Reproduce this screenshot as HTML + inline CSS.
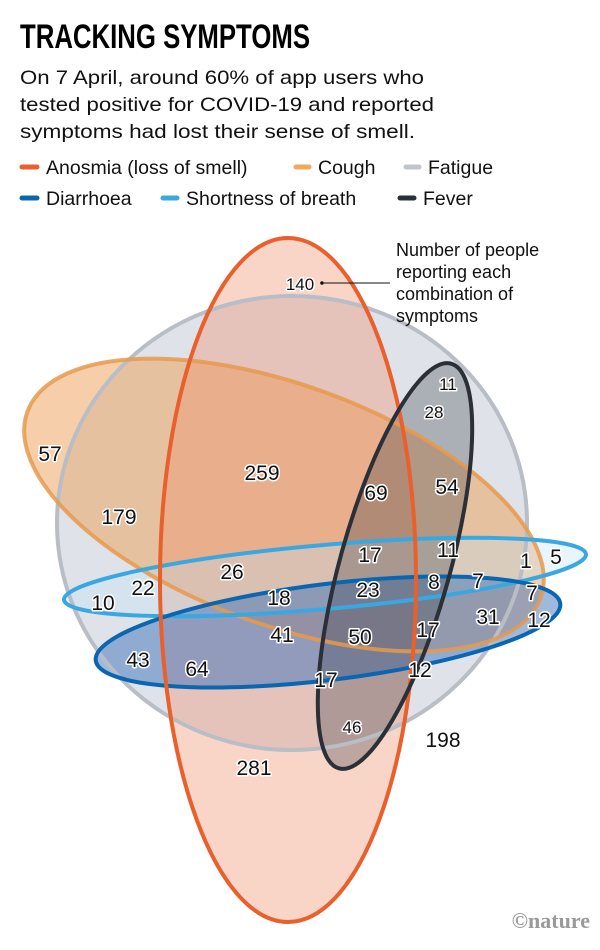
<!DOCTYPE html>
<html><head><meta charset="utf-8"><style>
body{margin:0;background:#fff;width:600px;height:950px;overflow:hidden;font-family:"Liberation Sans",sans-serif;}
svg{position:absolute;left:0;top:0}
</style></head><body>
<svg width="600" height="950" viewBox="0 0 600 950" xmlns="http://www.w3.org/2000/svg">
<text x="20" y="48" font-family="Liberation Sans Narrow, Liberation Sans, sans-serif" font-weight="bold" font-size="34" fill="#000" textLength="290" lengthAdjust="spacingAndGlyphs">TRACKING SYMPTOMS</text>
<g font-size="19.5" fill="#111">
<text x="20" y="84" textLength="404" lengthAdjust="spacingAndGlyphs">On 7 April, around 60% of app users who</text>
<text x="20" y="111" textLength="414" lengthAdjust="spacingAndGlyphs">tested positive for COVID-19 and reported</text>
<text x="20" y="138" textLength="395" lengthAdjust="spacingAndGlyphs">symptoms had lost their sense of smell.</text>
<text x="46" y="174">Anosmia (loss of smell)</text>
<text x="318" y="174">Cough</text>
<text x="428" y="174">Fatigue</text>
<text x="46" y="205">Diarrhoea</text>
<text x="186" y="205">Shortness of breath</text>
<text x="423" y="205">Fever</text>
</g>
<g stroke-width="5" stroke-linecap="round">
<line x1="22" y1="167" x2="37" y2="167" stroke="#e8602c"/>
<line x1="296" y1="167" x2="309" y2="167" stroke="#f0a85a"/>
<line x1="406" y1="167" x2="419" y2="167" stroke="#c0c4cb"/>
<line x1="22" y1="198" x2="37" y2="198" stroke="#0a66b0"/>
<line x1="163" y1="198" x2="177" y2="198" stroke="#3aa8e0"/>
<line x1="400" y1="198" x2="414" y2="198" stroke="#2a2f38"/>
</g>
<ellipse cx="292" cy="523" rx="235" ry="227" fill="#d2d7e0" fill-opacity="0.7"/>
<ellipse cx="284" cy="505" rx="273" ry="120" transform="rotate(20 284 505)" fill="#ee9f55" fill-opacity="0.5"/>
<ellipse cx="288" cy="580" rx="128" ry="342" fill="#f0916e" fill-opacity="0.38"/>
<ellipse cx="325" cy="577" rx="262" ry="32" transform="rotate(-5 325 577)" fill="#bfe2f5" fill-opacity="0.35"/>
<ellipse cx="328" cy="632" rx="234" ry="48" transform="rotate(-7 328 632)" fill="#3f74bb" fill-opacity="0.5"/>
<ellipse cx="395" cy="566" rx="210" ry="55" transform="rotate(-74.5 395 566)" fill="#353a47" fill-opacity="0.3"/>
<g fill="none" stroke-width="4">
<ellipse cx="292" cy="523" rx="235" ry="227" stroke="#b9bdc5"/>
<ellipse cx="284" cy="505" rx="273" ry="120" transform="rotate(20 284 505)" stroke="#e59a4c" stroke-opacity="0.85"/>
<ellipse cx="325" cy="577" rx="262" ry="32" transform="rotate(-5 325 577)" stroke="#3aa8e0"/>
<ellipse cx="328" cy="632" rx="234" ry="48" transform="rotate(-7 328 632)" stroke="#0a66b0"/>
<ellipse cx="288" cy="580" rx="128" ry="342" stroke="#e8602c"/>
<ellipse cx="395" cy="566" rx="210" ry="55" transform="rotate(-74.5 395 566)" stroke="#2a2f38"/>
</g>
<line x1="324" y1="283" x2="390" y2="283" stroke="#111" stroke-width="1"/>
<circle cx="322" cy="283" r="1.8" fill="#111"/>
<g font-size="18" fill="#111">
<text x="396" y="256">Number of people</text>
<text x="396" y="278">reporting each</text>
<text x="396" y="300">combination of</text>
<text x="396" y="322">symptoms</text>
</g>
<g font-size="21" fill="#111" stroke="#fff" stroke-width="3" paint-order="stroke" stroke-linejoin="round" text-anchor="middle">
<text x="300" y="290" font-size="17">140</text>
<text x="448" y="390" font-size="17">11</text>
<text x="434" y="418" font-size="17">28</text>
<text x="50" y="461">57</text>
<text x="262" y="480">259</text>
<text x="376" y="500">69</text>
<text x="447" y="494">54</text>
<text x="119" y="524">179</text>
<text x="370" y="562">17</text>
<text x="448" y="557">11</text>
<text x="526" y="568">1</text>
<text x="556" y="564">5</text>
<text x="232" y="579">26</text>
<text x="143" y="595">22</text>
<text x="103" y="610">10</text>
<text x="279" y="605">18</text>
<text x="368" y="597">23</text>
<text x="434" y="589">8</text>
<text x="478" y="588">7</text>
<text x="532" y="600">7</text>
<text x="282" y="642">41</text>
<text x="360" y="644">50</text>
<text x="428" y="637">17</text>
<text x="488" y="624">31</text>
<text x="539" y="627">12</text>
<text x="138" y="667">43</text>
<text x="197" y="676">64</text>
<text x="326" y="687">17</text>
<text x="420" y="677">12</text>
<text x="352" y="733" font-size="17">46</text>
<text x="443" y="747">198</text>
<text x="254" y="775">281</text>
</g>
<text x="590" y="928" text-anchor="end" font-family="Liberation Serif, serif" font-weight="bold" font-size="22" fill="#9a9a9a">©nature</text>
</svg>
</body></html>
